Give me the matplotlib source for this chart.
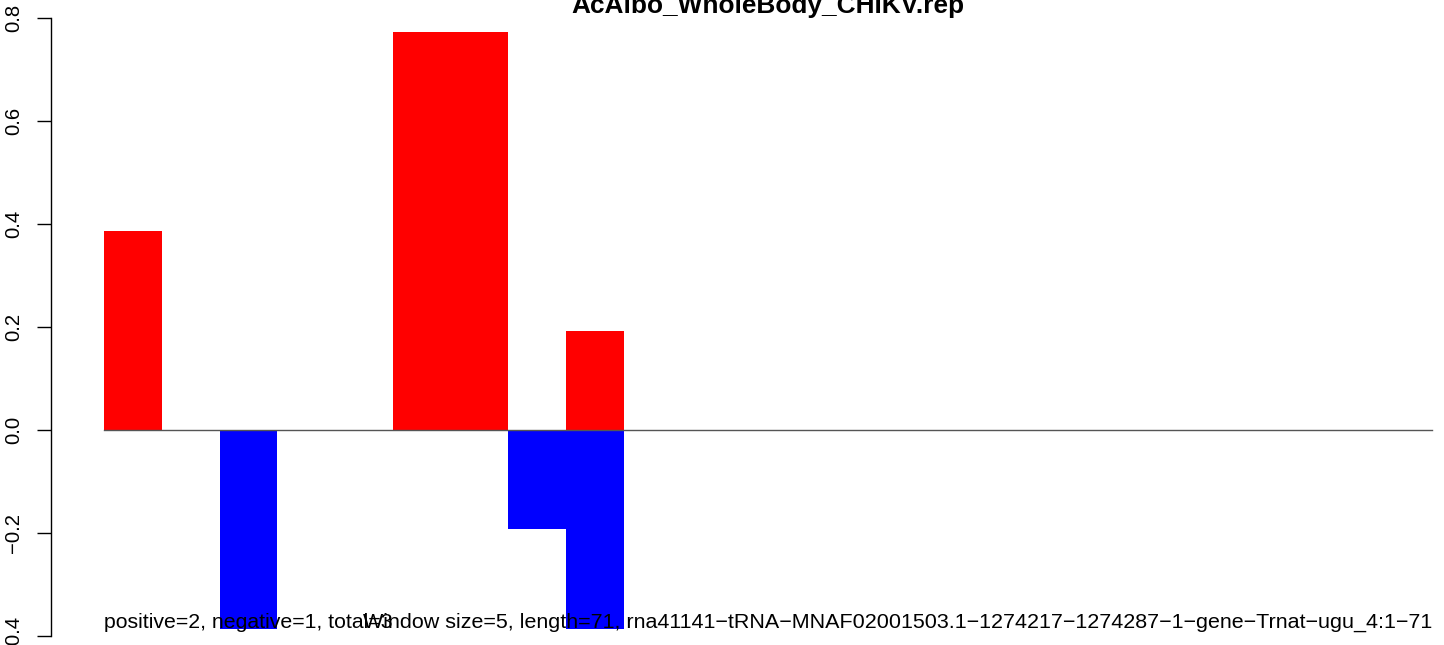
import matplotlib
matplotlib.use("Agg")
import matplotlib.pyplot as plt
import numpy as np

plt.rcParams['font.family'] = ['Liberation Sans', 'DejaVu Sans']

title = "AcAlbo_WholeBody_CHIKV.rep"
positive = [0.386, 0, 0, 0, 0, 0.773, 0.773, 0, 0.193, 0, 0, 0,
            0, 0, 0, 0, 0, 0, 0, 0, 0, 0, 0]
negative = [0, 0, -0.386, 0, 0, 0, 0, -0.193, -0.386, 0, 0, 0,
            0, 0, 0, 0, 0, 0, 0, 0, 0, 0, 0]
yticks = [-0.4, -0.2, 0.0, 0.2, 0.4, 0.6, 0.8]
ytick_labels = ["\u22120.4", "\u22120.2", "0.0", "0.2", "0.4", "0.6", "0.8"]
summary_text = "positive=2, negative=1, total=3"
info_text = ("Window size=5, length=71, rna41141\u2212tRNA\u2212MNAF02001503.1"
             "\u22121274217\u22121274287\u22121\u2212gene\u2212Trnat\u2212ugu_4:1\u221271")

W, H = 1444, 645
fig = plt.figure(figsize=(W / 100, H / 100), dpi=100)

n = len(positive)
xmin, xmax = -0.04 * n, n + 0.04 * n
ymin, ymax = -0.448, 0.848
px_per_unit_y = 515.0
zero_px = 430.0
top_px = zero_px - ymax * px_per_unit_y
bot_px = zero_px - ymin * px_per_unit_y
left_px, right_px = 51.0, 1485.0
ax = fig.add_axes([left_px / W, (H - bot_px) / H,
                   (right_px - left_px) / W, (bot_px - top_px) / H])

x = np.arange(n)
ax.bar(x, positive, width=1.0, align='edge', color='#FF0000', linewidth=0)
ax.bar(x, negative, width=1.0, align='edge', color='#0000FF', linewidth=0)
ax.plot([0, n], [0, 0], color='#555555', linewidth=1.0)

ax.set_xlim(xmin, xmax)
ax.set_ylim(ymin, ymax)
for s in ['top', 'right', 'bottom']:
    ax.spines[s].set_visible(False)
ax.spines['left'].set_bounds(-0.4, 0.8)
ax.spines['left'].set_linewidth(1.0)
ax.set_xticks([])
ax.set_yticks(yticks)
ax.set_yticklabels(ytick_labels, rotation=90, va='center', fontsize=14.6)
ax.tick_params(axis='y', length=10, width=1.0, pad=10)

ax.text(0, -0.384, summary_text, ha='left', va='baseline', fontsize=15.3,
        color='black')
ax.text(n, -0.384, info_text, ha='right', va='baseline', fontsize=15.45,
        color='black')

fig.text((left_px + right_px) / 2 / W, (H - 13) / H, title, ha='center',
         va='baseline', fontsize=18.9, fontweight='bold')

fig.savefig("out.png", dpi=100)
